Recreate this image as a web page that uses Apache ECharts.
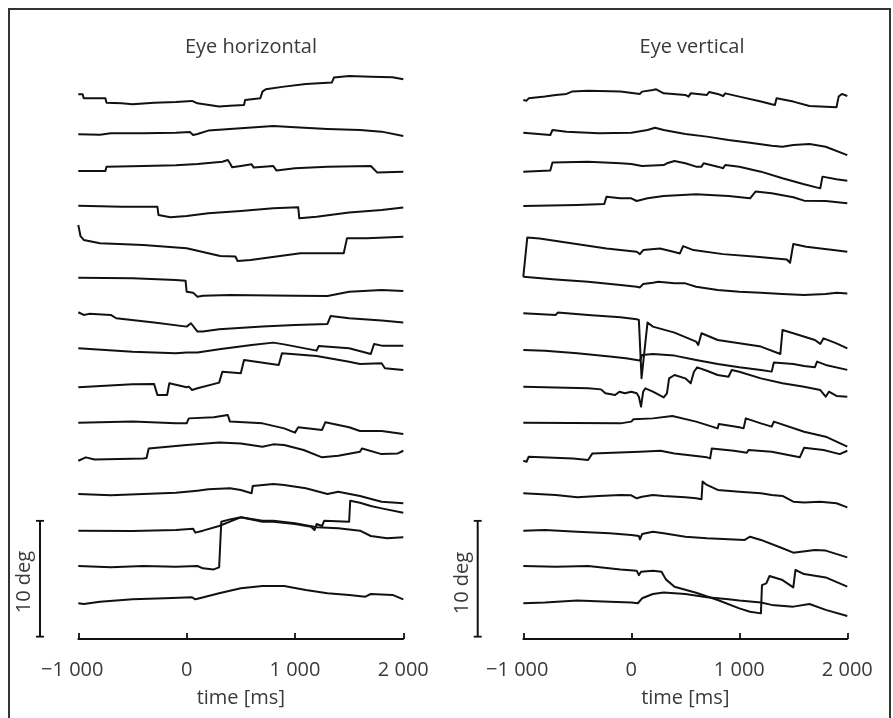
<!DOCTYPE html>
<html lang="en">
<head>
    <meta charset="UTF-8">
    <title>Eye position traces</title>
    <script src="https://cdn.jsdelivr.net/npm/echarts@6/dist/echarts.min.js"></script>
    <style>
        body { margin: 0; background: #fff; }
        #main { width: 893px; height: 718px; }
    </style>
</head>
<body>
<div id="main"></div>
<script>
    // time axis (ms) and the 10 deg scale bar
    var timeTicks = [-1000, 0, 1000, 2000];
    var scaleDeg = [0, 10];

    // start position of every trial (deg), top to bottom
    var horizBase = [46.76, 43.31, 40.15, 37.16, 35.49, 30.95, 27.97, 24.86, 21.5, 18.45, 15.17, 12.3, 9.14, 6.09, 2.88];
    var vertBase  = [46.27, 43.45, 40.09, 37.13, 31.03, 31.03, 27.88, 24.72, 21.55, 18.45, 15.17, 12.36, 9.14, 6.09, 2.88];

    // eye horizontal, [time ms, deg relative to start]
    var h01 = [[-1000,0],[-960,0],[-950,-0.34],[-750,-0.34],[-740,-0.72],[-600,-0.78],[-500,-0.86],[-300,-0.72],[-100,-0.66],[50,-0.57],[60,-0.49],[100,-0.78],[300,-1.06],[400,-0.98],[530,-0.92],[540,-0.49],[680,-0.34],[700,0.23],[730,0.43],[900,0.66],[1100,0.89],[1340,1.01],[1360,1.44],[1500,1.58],[1700,1.52],[1900,1.47],[2000,1.29]];
    var h02 = [[-1000,0],[-800,-0.03],[-700,0.09],[-400,0.09],[-100,0.14],[30,0.2],[60,-0.06],[100,0.03],[200,0.32],[500,0.52],[800,0.72],[1000,0.6],[1300,0.46],[1600,0.37],[1800,0.23],[2000,-0.14]];
    var h03 = [[-1000,0],[-750,0],[-740,0.37],[-400,0.43],[-100,0.49],[100,0.6],[330,0.8],[380,0.95],[400,0.66],[420,0.32],[500,0.43],[600,0.57],[620,0.29],[800,0.43],[830,0.03],[1000,0.23],[1300,0.37],[1700,0.43],[1760,-0.14],[2000,-0.06]];
    var h04 = [[-1000,0],[-600,-0.09],[-270,-0.09],[-260,-0.8],[-150,-1.01],[0,-0.89],[200,-0.66],[500,-0.46],[800,-0.23],[1030,-0.14],[1040,-1.09],[1200,-0.95],[1500,-0.6],[1800,-0.37],[2000,-0.17]];
    var h05 = [[-1000,0],[-980,-0.95],[-950,-1.29],[-800,-1.58],[-400,-1.72],[0,-2.01],[310,-2.67],[450,-2.72],[470,-3.1],[590,-3.02],[1050,-2.44],[1450,-2.44],[1480,-1.15],[1660,-1.15],[2000,-1.01]];
    var h06 = [[-1000,0],[-500,-0.06],[-100,-0.2],[-10,-0.26],[0,-1.21],[60,-1.29],[100,-1.64],[150,-1.55],[400,-1.49],[1000,-1.55],[1300,-1.58],[1500,-1.21],[1800,-1.06],[2000,-1.15]];
    var h07 = [[-1000,0],[-950,-0.23],[-900,-0.14],[-700,-0.23],[-650,-0.52],[-300,-0.89],[0,-1.24],[40,-0.95],[100,-1.67],[150,-1.67],[300,-1.47],[700,-1.24],[1000,-1.09],[1300,-1.01],[1330,-0.32],[1500,-0.52],[1800,-0.72],[2000,-0.89]];
    var h08 = [[-1000,0],[-500,-0.29],[-100,-0.43],[0,-0.37],[100,-0.37],[300,-0.09],[600,0.29],[800,0.49],[900,0.34],[1200,-0.2],[1220,0.2],[1500,0],[1700,-0.49],[1730,0.37],[1800,0.23],[2000,0.23]];
    var h09 = [[-1000,0],[-500,0.26],[-300,0.29],[-270,-0.66],[-180,-0.66],[-160,0.34],[0,0],[20,0.06],[50,-0.23],[100,-0.09],[300,0.4],[330,1.35],[500,1.21],[530,2.36],[850,1.93],[880,2.93],[1200,2.7],[1500,2.21],[1600,2.01],[1800,2.07],[1830,1.64],[2000,1.49]];
    var h10 = [[-1000,0],[-500,0.09],[-100,-0.06],[0,-0.06],[20,0.37],[250,0.46],[380,0.66],[400,0.09],[700,-0.06],[900,-0.49],[1000,-0.86],[1030,-0.4],[1250,-0.63],[1280,0.03],[1500,-0.4],[1600,-0.72],[1800,-0.72],[2000,-0.98]];
    var h11 = [[-1000,0],[-930,0.29],[-850,0.11],[-400,0.2],[-370,0.23],[-350,1.06],[0,1.35],[300,1.58],[500,1.49],[700,1.21],[800,1.41],[900,1.35],[1080,0.92],[1250,0.29],[1400,0.43],[1600,0.78],[1620,1.06],[1800,0.57],[1950,0.63],[2000,0.86]];
    var h12 = [[-1000,0],[-700,-0.11],[-400,0],[-100,0.11],[100,0.29],[200,0.4],[400,0.49],[500,0.34],[600,0.06],[610,0.69],[800,0.86],[900,0.78],[1100,0.49],[1300,0],[1400,0.2],[1600,-0.17],[1800,-0.66],[2000,-0.8]];
    var h13 = [[-1000,0],[-500,-0.03],[-100,0.06],[60,0.17],[80,-0.17],[150,0],[300,0.4],[400,0.78],[500,1.15],[700,0.86],[800,0.86],[1000,0.63],[1200,0.29],[1400,0.2],[1600,0],[1700,-0.46],[1850,-0.66],[2000,-0.57]];
    var h14 = [[-1000,0],[-700,-0.11],[-400,0],[-100,-0.06],[100,0],[150,-0.2],[250,-0.29],[300,-0.11],[320,3.82],[400,4.02],[500,4.2],[600,4.02],[700,3.82],[800,3.82],[1000,3.62],[1150,3.39],[1180,3.1],[1200,3.62],[1250,3.45],[1270,3.91],[1500,3.82],[1510,5.63],[1600,5.46],[1700,5.17],[1800,4.97],[2000,4.6]];
    var h15 = [[-1000,0],[-950,-0.06],[-800,0.14],[-500,0.34],[-200,0.43],[50,0.52],[80,0.34],[120,0.43],[300,0.86],[500,1.29],[700,1.49],[900,1.49],[1100,1.15],[1300,0.86],[1500,0.72],[1650,0.57],[1700,0.8],[1900,0.72],[2000,0.34]];

    // eye vertical, [time ms, deg relative to start]
    var v01 = [[-1000,0],[-970,-0.06],[-950,0.14],[-800,0.29],[-700,0.43],[-600,0.52],[-550,0.72],[-400,0.8],[-100,0.72],[80,0.52],[100,0.72],[200,0.86],[230,0.92],[300,0.57],[500,0.43],[530,0.29],[550,0.57],[700,0.43],[720,0.69],[800,0.52],[850,0.34],[870,0.57],[1000,0.29],[1200,-0.14],[1300,-0.37],[1330,-0.43],[1345,0.14],[1500,-0.14],[1650,-0.52],[1900,-0.63],[1920,0.29],[1950,0.52],[2000,0.34]];
    var v02 = [[-1000,0],[-750,-0.2],[-730,0.23],[-600,0.09],[-300,-0.06],[0,0],[150,0.23],[220,0.43],[300,0.23],[500,-0.11],[700,-0.34],[900,-0.63],[1100,-0.86],[1300,-1.12],[1400,-1.21],[1500,-1.06],[1650,-0.98],[1800,-1.21],[2000,-1.93]];
    var v03 = [[-1000,0],[-750,0.09],[-730,0.78],[-400,0.86],[-100,0.72],[0,0.66],[100,0.49],[300,0.57],[330,0.72],[400,0.92],[500,0.72],[600,0.43],[650,0.43],[670,0.72],[800,0.43],[850,0.29],[870,0.57],[1000,0.43],[1200,0],[1400,-0.57],[1600,-1.09],[1750,-1.44],[1770,-0.43],[1900,-0.66],[2000,-0.78]];
    var v04 = [[-1000,0],[-500,0.09],[-250,0.17],[-230,0.8],[-100,0.66],[0,0.66],[50,0.43],[150,0.66],[300,0.86],[600,1.01],[900,0.86],[1100,0.66],[1150,1.24],[1300,1.09],[1500,0.75],[1600,0.46],[1800,0.43],[2000,0.23]];
    var v05 = [[-1000,0],[-963,3.39],[-850,3.3],[-540,2.87],[-230,2.44],[50,2.16],[80,1.95],[110,2.3],[265,2.44],[390,2.16],[450,2.01],[480,2.64],[575,2.3],[850,1.95],[1160,1.72],[1440,1.49],[1470,1.21],[1500,2.82],[1620,2.59],[1870,2.3],[2000,2.16]];
    var v06 = [[-1000,0],[-700,-0.23],[-400,-0.43],[-100,-0.72],[50,-0.86],[80,-0.92],[110,-0.63],[200,-0.52],[250,-0.43],[400,-0.57],[500,-0.57],[600,-0.86],[800,-1.15],[1000,-1.29],[1200,-1.38],[1400,-1.49],[1600,-1.58],[1800,-1.49],[1900,-1.38],[2000,-1.44]];
    var v07 = [[-1000,0],[-700,-0.14],[-680,0.06],[-400,-0.14],[-100,-0.34],[50,-0.52],[70,-0.57],[95,-5.6],[150,-0.8],[200,-1.15],[400,-1.67],[600,-2.44],[620,-2.73],[650,-1.72],[800,-2.3],[1000,-2.59],[1200,-2.87],[1380,-3.51],[1400,-1.44],[1500,-1.72],[1700,-2.3],[1750,-2.64],[1780,-2.16],[1900,-2.59],[2000,-3.02]];
    var v08 = [[-1000,0],[-800,-0.06],[-500,-0.29],[-200,-0.57],[-50,-0.72],[50,-0.86],[80,-0.92],[100,-0.43],[200,-0.34],[400,-0.49],[600,-0.86],[800,-1.21],[1000,-1.49],[1200,-1.72],[1300,-1.87],[1320,-1.09],[1500,-1.21],[1600,-1.38],[1700,-1.49],[1720,-1.01],[1800,-1.29],[2000,-1.72]];
    var v09 = [[-1000,0],[-700,-0.06],[-400,-0.14],[-280,-0.23],[-240,-0.57],[-150,-0.72],[-110,-0.43],[-60,-0.57],[0,-0.43],[50,-0.57],[70,-0.86],[90,-1.72],[110,-0.43],[130,-0.14],[200,-0.43],[300,-0.92],[330,-0.57],[350,0.72],[400,1.01],[500,0.72],[550,0.29],[580,1.29],[610,1.67],[700,1.38],[800,1.01],[900,0.86],[930,1.44],[1000,1.29],[1200,0.72],[1400,0.29],[1600,0],[1750,-0.29],[1800,-0.86],[1830,-0.43],[1900,-0.8],[2000,-0.86]];
    var v10 = [[-1000,0],[-100,-0.06],[0,0.09],[20,0.29],[200,0.37],[380,0.57],[600,0.09],[800,-0.49],[810,-0.11],[1000,-0.4],[1040,-0.49],[1060,0.37],[1200,-0.06],[1300,-0.34],[1320,0.09],[1600,-0.78],[1800,-1.21],[2000,-2.07]];
    var v11 = [[-1000,0],[-970,-0.09],[-950,0.34],[-540,0.2],[-400,0.06],[-360,0.63],[80,0.78],[270,0.86],[400,0.63],[700,0.29],[730,0.2],[745,1.06],[950,0.86],[1070,0.69],[1085,0.92],[1300,0.78],[1560,0.29],[1600,1.12],[1780,0.92],[1930,0.57],[2000,0.86]];
    var v12 = [[-1000,0],[-700,-0.14],[-500,-0.34],[-300,-0.23],[-100,-0.14],[0,-0.17],[50,-0.43],[100,-0.29],[200,-0.14],[300,-0.23],[500,-0.34],[600,-0.43],[650,-0.52],[660,1.01],[700,0.72],[800,0.29],[1000,0.14],[1200,0],[1300,-0.14],[1400,-0.23],[1500,-0.72],[1600,-0.8],[1750,-0.72],[1900,-0.86],[2000,-1.21]];
    var v13 = [[-1000,0],[-800,0.06],[-500,-0.09],[-200,-0.23],[0,-0.37],[70,-0.46],[80,-0.75],[100,-0.29],[200,-0.09],[300,-0.23],[500,-0.52],[700,-0.66],[900,-0.75],[1050,-0.8],[1100,-0.52],[1200,-0.8],[1400,-1.52],[1500,-1.9],[1700,-1.67],[1800,-1.72],[2000,-2.3]];
    var v14 = [[-1000,0],[-700,-0.06],[-400,0],[-100,-0.29],[50,-0.4],[70,-0.78],[90,-0.49],[200,-0.4],[280,-0.49],[320,-1.15],[400,-1.78],[600,-2.3],[800,-2.93],[1000,-3.65],[1100,-3.94],[1200,-4.08],[1210,-1.64],[1250,-1.49],[1280,-0.86],[1400,-1.21],[1500,-1.84],[1520,-0.34],[1600,-0.69],[1800,-0.98],[2000,-1.78]];
    var v15 = [[-1000,0],[-800,0.06],[-500,0.23],[-200,0.14],[0,0.06],[60,0],[100,0.43],[200,0.8],[300,0.92],[500,0.8],[700,0.52],[900,0.34],[1000,0.23],[1200,0.06],[1300,-0.14],[1500,-0.29],[1650,-0.06],[1800,-0.57],[2000,-1.09]];

    var horizTraces = [h01, h02, h03, h04, h05, h06, h07, h08, h09, h10, h11, h12, h13, h14, h15];
    var vertTraces  = [v01, v02, v03, v04, v05, v06, v07, v08, v09, v10, v11, v12, v13, v14, v15];

    var FONT = '"Open Sans", "Noto Sans", sans-serif';
    var TEXT = '#3a3a3a';
    var INK = '#111';

    function tickLabel(v) {
        if (v === 0) return '0';
        var s = Math.abs(v / 1000) + ' 000';
        return v < 0 ? '{neg|\u2212' + s + '}' : s;
    }

    function timeAxis(idx) {
        return {
            gridIndex: idx, type: 'value',
            min: timeTicks[0], max: timeTicks[timeTicks.length - 1], interval: 1000,
            axisLine: { onZero: false, lineStyle: { color: INK, width: 1.8 } },
            axisTick: { inside: true, length: 6, lineStyle: { color: INK, width: 1.8 } },
            splitLine: { show: false },
            axisLabel: {
                margin: 21, formatter: tickLabel, color: TEXT,
                fontFamily: FONT, fontSize: 20,
                rich: { neg: { fontFamily: FONT, fontSize: 20, color: TEXT, padding: [0, 12, 0, 0] } }
            },
            name: 'time [ms]', nameLocation: 'middle', nameGap: 49,
            nameTextStyle: { fontFamily: FONT, fontSize: 20, color: TEXT }
        };
    }

    function traceSeries(traces, bases, idx) {
        return traces.map(function (tr, i) {
            return {
                type: 'line', xAxisIndex: idx, yAxisIndex: idx,
                data: tr.map(function (p) { return [p[0], bases[i] + p[1]]; }),
                symbol: 'none', silent: true, animation: false,
                lineStyle: { color: INK, width: 2, join: 'round' }
            };
        });
    }

    function scaleSeries(idx) {
        var a = scaleDeg[0], b = scaleDeg[1];
        return {
            type: 'line', xAxisIndex: idx, yAxisIndex: idx,
            data: [[-1, a], [1, a], [0, a], [0, b], [-1, b], [1, b]],
            symbol: 'none', silent: true, animation: false,
            lineStyle: { color: INK, width: 2 }
        };
    }

    var chart = echarts.init(document.getElementById('main'));
    chart.setOption({
        backgroundColor: '#fff',
        animation: false,
        title: [
            { text: 'Eye horizontal', left: 246, top: 32, textAlign: 'center',
              textStyle: { fontFamily: FONT, fontSize: 20, fontWeight: 'normal', color: TEXT } },
            { text: 'Eye vertical', left: 687, top: 32, textAlign: 'center',
              textStyle: { fontFamily: FONT, fontSize: 20, fontWeight: 'normal', color: TEXT } }
        ],
        grid: [
            { left: 78.3, top: 56.7, width: 325, height: 582.3 },
            { left: 523.3, top: 56.7, width: 324, height: 582.3 },
            { left: 36, top: 520.7, width: 8, height: 116 },
            { left: 473.7, top: 520.7, width: 8, height: 116 }
        ],
        xAxis: [
            timeAxis(0), timeAxis(1),
            { gridIndex: 2, type: 'value', min: -1, max: 1, show: false },
            { gridIndex: 3, type: 'value', min: -1, max: 1, show: false }
        ],
        yAxis: [
            { gridIndex: 0, type: 'value', min: -0.2, max: 50, show: false },
            { gridIndex: 1, type: 'value', min: -0.2, max: 50, show: false },
            { gridIndex: 2, type: 'value', min: 0, max: 10, show: false },
            { gridIndex: 3, type: 'value', min: 0, max: 10, show: false }
        ],
        graphic: [
            { type: 'rect', silent: true, z: 100,
              shape: { x: 9, y: 9, width: 881, height: 740 },
              style: { fill: 'none', stroke: '#333', lineWidth: 2 } },
            { type: 'text', x: 24, y: 582, rotation: Math.PI / 2, silent: true,
              style: { text: '10 deg', font: '20px ' + FONT, fill: TEXT,
                       align: 'center', verticalAlign: 'middle', textAlign: 'center', textVerticalAlign: 'middle' } },
            { type: 'text', x: 462, y: 583, rotation: Math.PI / 2, silent: true,
              style: { text: '10 deg', font: '20px ' + FONT, fill: TEXT,
                       align: 'center', verticalAlign: 'middle', textAlign: 'center', textVerticalAlign: 'middle' } }
        ],
        series: []
            .concat(traceSeries(horizTraces, horizBase, 0))
            .concat(traceSeries(vertTraces, vertBase, 1))
            .concat([scaleSeries(2), scaleSeries(3)])
    });
</script>
</body>
</html>
